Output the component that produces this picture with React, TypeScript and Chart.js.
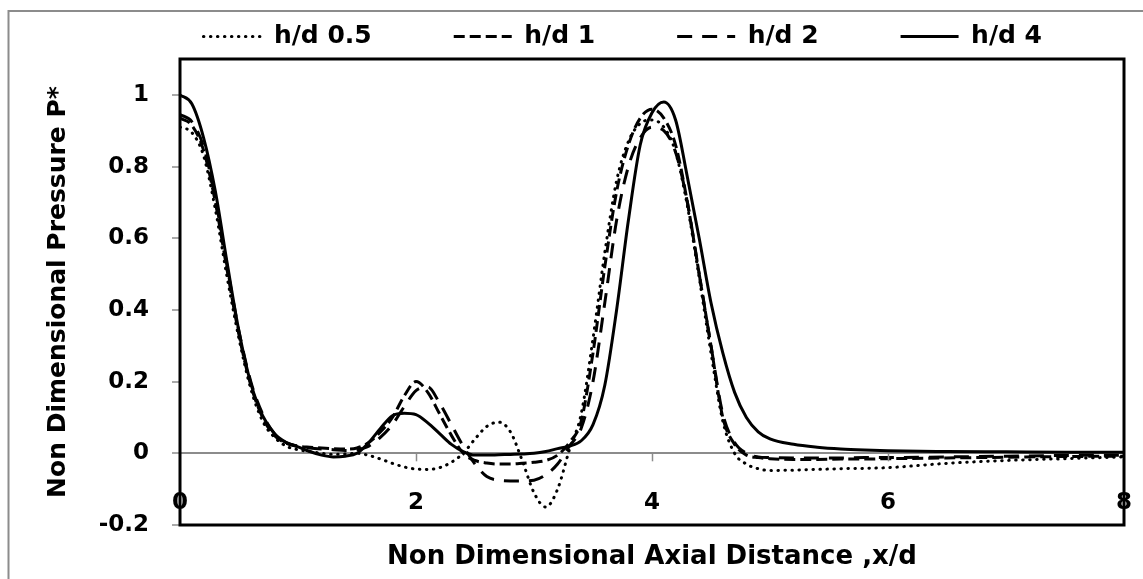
import React, { useEffect, useRef } from 'react';
import { Chart, registerables } from 'chart.js';

Chart.register(...registerables);

// x/d positions shared by all series
const xValues = [
  0, 0.1, 0.2, 0.3, 0.4, 0.5, 0.6, 0.7, 0.8, 0.9,
  1.0, 1.1, 1.2, 1.3, 1.4, 1.5, 1.6, 1.7, 1.8, 1.9,
  2.0, 2.1, 2.2, 2.3, 2.4, 2.5, 2.6, 2.7, 2.8, 2.9,
  3.0, 3.1, 3.2, 3.3, 3.4, 3.5, 3.6, 3.7, 3.8, 3.9,
  4.0, 4.1, 4.2, 4.3, 4.4, 4.5, 4.6, 4.7, 4.8, 4.9,
  5.0, 5.2, 5.4, 5.6, 5.8, 6.0, 6.5, 7.0, 7.5, 8.0,
];

const hd05 = [
  0.91, 0.895, 0.83, 0.68, 0.49, 0.32, 0.18, 0.09, 0.045, 0.02,
  0.01, 0.005, 0.0, -0.003, -0.002, 0.0, -0.006, -0.016, -0.028, -0.038,
  -0.044, -0.045, -0.04, -0.025, 0.0, 0.04, 0.075, 0.087, 0.06, -0.02,
  -0.11, -0.15, -0.1, 0.01, 0.11, 0.32, 0.56, 0.76, 0.87, 0.92,
  0.93, 0.91, 0.84, 0.69, 0.49, 0.28, 0.09, 0.0, -0.03, -0.043,
  -0.048, -0.047, -0.045, -0.043, -0.042, -0.04, -0.028, -0.02, -0.015, -0.01,
];

const hd1 = [
  0.935, 0.915, 0.845, 0.7, 0.51, 0.33, 0.19, 0.1, 0.05, 0.028,
  0.02, 0.017, 0.015, 0.013, 0.012, 0.015, 0.03, 0.06, 0.1, 0.16,
  0.2, 0.17, 0.11, 0.05, 0.0, -0.02, -0.027, -0.03, -0.03, -0.028,
  -0.025, -0.02, -0.005, 0.03, 0.09, 0.28, 0.52, 0.73, 0.86, 0.935,
  0.96, 0.935, 0.86, 0.7, 0.5, 0.3, 0.1, 0.025, -0.005, -0.012,
  -0.015, -0.017, -0.017, -0.016, -0.016, -0.015, -0.013, -0.011, -0.009, -0.008,
];

const hd2 = [
  0.945, 0.925, 0.855, 0.71, 0.52, 0.34, 0.2, 0.11, 0.055, 0.03,
  0.02, 0.015, 0.012, 0.01, 0.008, 0.01, 0.02, 0.045, 0.08, 0.13,
  0.175, 0.185, 0.14, 0.08, 0.02, -0.03, -0.065, -0.075, -0.077, -0.077,
  -0.075, -0.06, -0.03, 0.02, 0.07, 0.2, 0.42, 0.65, 0.8, 0.88,
  0.91, 0.9, 0.84, 0.7, 0.5, 0.3, 0.11, 0.03, 0.0, -0.01,
  -0.012, -0.013, -0.013, -0.013, -0.012, -0.012, -0.01, -0.008, -0.006, -0.005,
];

const hd4 = [
  1.0, 0.975, 0.88, 0.73, 0.53, 0.34, 0.195, 0.105, 0.055, 0.03,
  0.018, 0.005, -0.005, -0.01, -0.008, 0.0, 0.03, 0.07, 0.105, 0.112,
  0.108, 0.085, 0.055, 0.025, 0.005, -0.005, -0.005, -0.004, -0.003, -0.002,
  0.0, 0.005, 0.013, 0.02, 0.035, 0.08, 0.19, 0.4, 0.65, 0.86,
  0.95, 0.98, 0.93, 0.77, 0.6, 0.42, 0.28, 0.17, 0.1, 0.06,
  0.04, 0.025, 0.017, 0.012, 0.009, 0.007, 0.005, 0.004, 0.003, 0.003,
];

const seriesLabels = ['h/d 0.5', 'h/d 1', 'h/d 2', 'h/d 4'];
const xTicks = [0, 2, 4, 6, 8];
const yTicks = [-0.2, 0, 0.2, 0.4, 0.6, 0.8, 1];

const FONT = "'DejaVu Sans', 'Liberation Sans', sans-serif";

export default function App() {
  const ref = useRef<HTMLCanvasElement>(null);

  useEffect(() => {
    const toPts = (ys: number[]) => xValues.map((x, i) => ({ x, y: ys[i] }));

    const decor = {
      id: 'decor',
      beforeDraw(chart: any) {
        const ctx = chart.ctx;
        ctx.save();
        ctx.strokeStyle = '#8c8c8c';
        ctx.lineWidth = 2;
        ctx.strokeRect(8.5, 11, 1160, 620);
        ctx.restore();
      },
      afterDatasetsDraw(chart: any) {
        const ctx = chart.ctx;
        const a = chart.chartArea;
        const xs = chart.scales.x;
        const ys = chart.scales.y;
        const y0 = ys.getPixelForValue(0);
        ctx.save();
        ctx.strokeStyle = '#8c8c8c';
        ctx.lineWidth = 1.5;
        xTicks.forEach((v) => {
          if (v === xs.min || v === xs.max) return;
          const px = Math.round(xs.getPixelForValue(v)) + 0.5;
          ctx.beginPath();
          ctx.moveTo(px, y0);
          ctx.lineTo(px, y0 + 8);
          ctx.stroke();
        });
        ctx.strokeStyle = '#000';
        ctx.lineWidth = 3;
        ctx.strokeRect(a.left, a.top, a.right - a.left, a.bottom - a.top);
        ctx.restore();
      },
    };

    const styles = [
      { borderDash: [0.5, 6.5], borderCapStyle: 'round' },
      { borderDash: [11, 5], borderCapStyle: 'butt' },
      { borderDash: [15, 10], borderCapStyle: 'butt' },
      { borderDash: [], borderCapStyle: 'butt' },
    ];
    const series = [hd05, hd1, hd2, hd4];

    const chart = new Chart(ref.current as HTMLCanvasElement, {
      type: 'line',
      data: {
        datasets: series.map((s, i) => ({
          label: seriesLabels[i],
          data: toPts(s),
          borderColor: '#000',
          backgroundColor: '#000',
          borderWidth: 3,
          borderDash: styles[i].borderDash,
          borderCapStyle: styles[i].borderCapStyle as any,
          pointRadius: 0,
          pointHoverRadius: 0,
          cubicInterpolationMode: 'monotone' as const,
          fill: false,
        })),
      },
      options: {
        responsive: false,
        animation: false,
        events: [],
        layout: { padding: { left: 8, right: 19, top: -58, bottom: 0 } },
        plugins: {
          tooltip: { enabled: false },
          legend: {
            display: true,
            position: 'top',
            align: 'end',
            labels: {
              usePointStyle: true,
              pointStyle: 'line',
              pointStyleWidth: 58,
              padding: 82,
              color: '#000',
              font: { family: FONT, size: 25, weight: 'bold' },
              generateLabels: (c: any) => {
                const items = (Chart as any).defaults.plugins.legend.labels.generateLabels(c);
                return items.map((it: any) => {
                  const ds = c.data.datasets[it.datasetIndex];
                  return {
                    ...it,
                    lineDash: ds.borderDash || [],
                    lineCap: ds.borderCapStyle || 'butt',
                    lineWidth: 3,
                    strokeStyle: '#000',
                    fillStyle: '#000',
                    pointStyle: 'line',
                  };
                });
              },
            },
          },
        },
        scales: {
          x: {
            type: 'linear',
            min: 0,
            max: 8,
            afterBuildTicks: (s: any) => {
              s.ticks = xTicks.map((v) => ({ value: v }));
            },
            afterFit: (s: any) => {
              s.height = 54;
            },
            border: { display: false },
            grid: { display: false, drawTicks: false },
            ticks: {
              mirror: true,
              padding: 8,
              color: '#000',
              maxRotation: 0,
              autoSkip: false,
              font: { family: FONT, size: 23, weight: 'bold' },
              callback: (v: any) => String(v),
            },
            title: {
              display: true,
              text: 'Non Dimensional Axial Distance ,x/d',
              color: '#000',
              font: { family: FONT, size: 26, weight: 'bold' },
              padding: { top: 0, bottom: 6 },
            },
          },
          y: {
            type: 'linear',
            min: -0.2,
            max: 1.1,
            afterBuildTicks: (s: any) => {
              s.ticks = yTicks.map((v) => ({ value: v }));
            },
            afterFit: (s: any) => {
              s.width = 172;
            },
            border: { display: false },
            grid: {
              color: (ctx: any) =>
                ctx.tick && Math.abs(ctx.tick.value) < 1e-9 ? '#8c8c8c' : 'rgba(0,0,0,0)',
              lineWidth: 2,
              tickColor: '#8c8c8c',
              tickWidth: 1.5,
              tickLength: 8,
            },
            ticks: {
              padding: 23,
              color: '#000',
              font: { family: FONT, size: 23, weight: 'bold' },
              callback: (v: any) => String(Math.round(Number(v) * 10) / 10),
            },
            title: {
              display: true,
              text: 'Non Dimensional Pressure P*',
              color: '#000',
              font: { family: FONT, size: 25, weight: 'bold' },
              padding: { top: 35, bottom: 0 },
            },
          },
        },
      },
      plugins: [decor],
    } as any);

    return () => chart.destroy();
  }, []);

  return (
    <div style={{ position: 'fixed', left: 0, top: 0, width: 1143, height: 579, background: '#fff' }}>
      <canvas ref={ref} width={1143} height={579} style={{ display: 'block' }} />
    </div>
  );
}
